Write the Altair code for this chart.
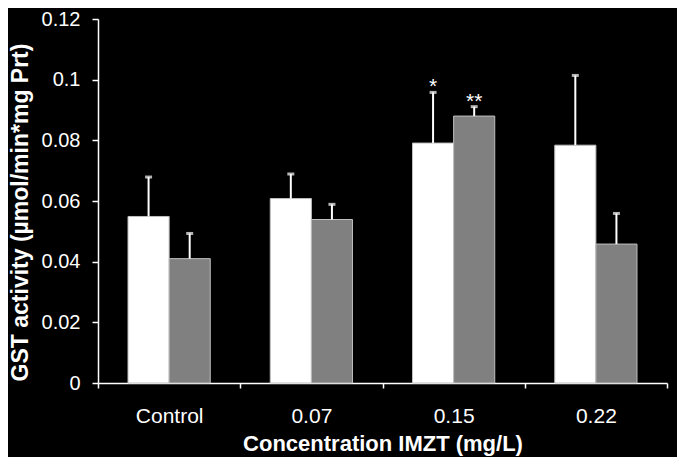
import altair as alt
import pandas as pd

categories = ["Control", "0.07", "0.15", "0.22"]
white_means = [0.0549, 0.0608, 0.0791, 0.0784]
white_err = [0.0130, 0.0081, 0.0167, 0.0230]
gray_means = [0.0410, 0.0539, 0.0880, 0.0458]
gray_err = [0.0083, 0.0050, 0.0031, 0.0101]
white_sig = ["", "", "*", ""]
gray_sig = ["", "", "**", ""]
series = ["A", "B"]
y_ticks = [0, 0.02, 0.04, 0.06, 0.08, 0.1, 0.12]

rows = []
for i, c in enumerate(categories):
    rows.append({"cat": c, "series": "A", "mean": white_means[i],
                 "top": white_means[i] + white_err[i], "sig": white_sig[i]})
    rows.append({"cat": c, "series": "B", "mean": gray_means[i],
                 "top": gray_means[i] + gray_err[i], "sig": gray_sig[i]})
df = pd.DataFrame(rows)

FONT = "Liberation Sans"

x_enc = alt.X(
    "cat:N", sort=categories,
    scale=alt.Scale(paddingInner=0, paddingOuter=0),
    axis=alt.Axis(
        title="Concentration IMZT (mg/L)", tickBand="extent", labelAngle=0,
        labelFont=FONT, labelFontSize=21, labelColor="white",
        labelBaseline="alphabetic", labelPadding=34,
        titleFont=FONT, titleFontSize=22, titleFontWeight="bold", titleColor="white",
        titleBaseline="alphabetic", titleY=67,
        domainColor="white", domainWidth=1.5, tickColor="white", tickWidth=1.5, tickSize=5,
    ),
)
xoff = alt.XOffset("series:N", sort=series,
                   scale=alt.Scale(paddingInner=0, paddingOuter=0.73))
y_scale = alt.Scale(domain=[0, 0.12], nice=False)

bars = alt.Chart(df).mark_bar(stroke="#bfbfbf", strokeWidth=1).encode(
    x=x_enc,
    xOffset=xoff,
    y=alt.Y("mean:Q", scale=y_scale, axis=alt.Axis(
        title="GST activity (µmol/min*mg Prt)", values=y_ticks, format="~g",
        grid=False, labelFont=FONT, labelFontSize=20, labelColor="white", labelPadding=12,
        titleFont=FONT, titleFontSize=23, titleFontWeight="bold", titleColor="white",
        titleX=-71, titleY=193, titleBaseline="alphabetic", titleAngle=-90,
        domainColor="white", domainWidth=1.5, tickColor="white", tickWidth=1.5, tickSize=6,
    )),
    color=alt.Color("series:N", sort=series,
                    scale=alt.Scale(domain=series, range=["#ffffff", "#808080"]),
                    legend=None),
)

err = alt.Chart(df).mark_rule(color="white", strokeWidth=2).encode(
    x=alt.X("cat:N", sort=categories),
    xOffset=xoff,
    y=alt.Y("mean:Q", scale=y_scale),
    y2="top:Q",
)

caps = alt.Chart(df).mark_tick(color="white", size=7, thickness=3, orient="horizontal").encode(
    x=alt.X("cat:N", sort=categories),
    xOffset=xoff,
    y=alt.Y("top:Q", scale=y_scale),
)

stars = alt.Chart(df).mark_text(color="white", font=FONT, fontSize=21,
                                baseline="alphabetic", dy=1).encode(
    x=alt.X("cat:N", sort=categories),
    xOffset=xoff,
    y=alt.Y("top:Q", scale=y_scale),
    text="sig:N",
)

chart = alt.layer(bars, err, caps, stars).properties(
    width=569, height=364,
    autosize=alt.AutoSizeParams(type="none"),
    padding={"left": 90, "top": 11, "right": 10, "bottom": 74},
).configure(background="black").configure_view(strokeWidth=0)

chart.save("out.html", embed_options={"renderer": "svg", "actions": False})
